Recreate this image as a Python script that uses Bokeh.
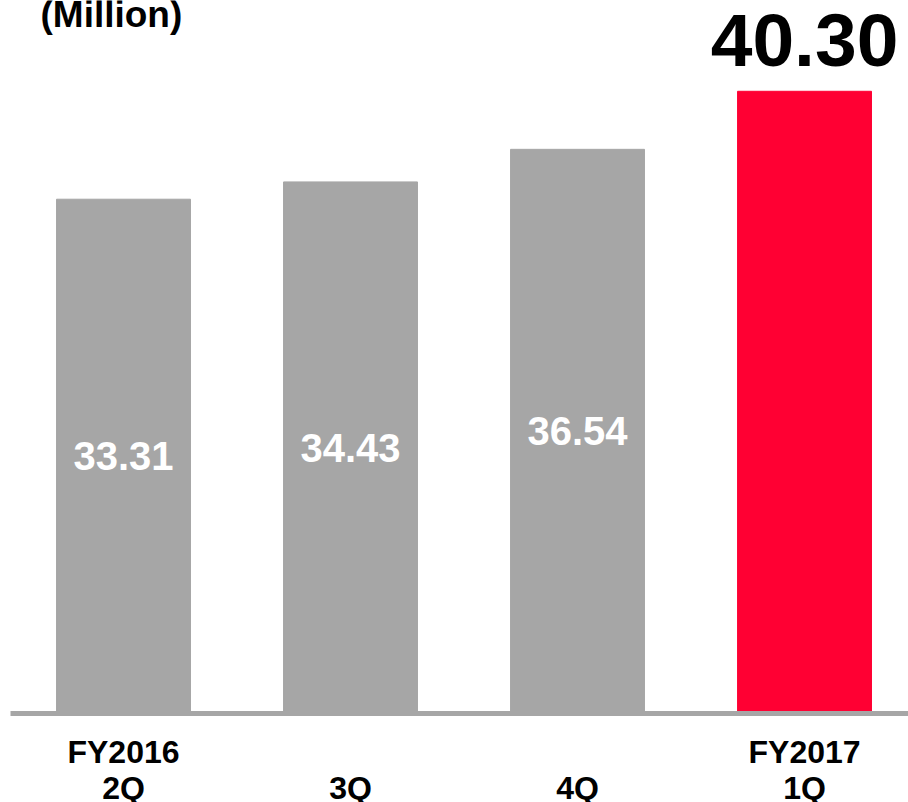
from bokeh.plotting import figure
from bokeh.models import Range1d, FixedTicker, Label, ColumnDataSource
from bokeh.core.properties import value
from bokeh.embed import file_html
from bokeh.resources import INLINE

# Quarterly figures (millions)
quarters = ["FY2016\n2Q", "\n3Q", "\n4Q", "FY2017\n1Q"]
amounts = [33.31, 34.43, 36.54, 40.30]
bar_colors = ["#A6A6A6", "#A6A6A6", "#A6A6A6", "#FF0033"]

FONT = "Liberation Sans"

idx = list(range(len(amounts)))
src = ColumnDataSource(dict(
    x=idx,
    top=amounts,
    color=bar_colors,
))

p = figure(
    frame_width=898, frame_height=713,
    x_range=Range1d(-0.4978, 3.458), y_range=Range1d(0, 46.18),
    y_axis_location=None,
    output_backend="svg", toolbar_location=None,
    min_border_left=10, min_border_right=0, min_border_top=0, min_border_bottom=0,
)
p.outline_line_color = None
p.grid.visible = False
p.background_fill_color = "white"
p.border_fill_color = "white"

p.vbar(x="x", top="top", bottom=0, width=0.59, color="color", source=src)

# value labels inside the grey bars
grey = ColumnDataSource(dict(
    x=idx[:-1], y=[a / 2 for a in amounts[:-1]], txt=[f"{a:.2f}" for a in amounts[:-1]],
))
p.text(x="x", y="y", text="txt", source=grey,
       text_color="white", text_font=value(FONT), text_font_style="bold",
       text_font_size="40px", text_align="center", text_baseline="middle")

# latest quarter highlighted above its bar
last = ColumnDataSource(dict(x=idx[-1:], y=amounts[-1:], txt=[f"{amounts[-1]:.2f}"]))
p.text(x="x", y="y", text="txt", source=last, y_offset=-51,
       text_color="black", text_font=value(FONT), text_font_style="bold",
       text_font_size="75px", text_align="center", text_baseline="alphabetic")

p.xaxis.ticker = FixedTicker(ticks=idx)
p.xaxis.major_label_overrides = {i: q for i, q in zip(idx, quarters)}
p.xaxis.major_tick_line_color = None
p.xaxis.minor_tick_line_color = None
p.xaxis.axis_line_color = "#A6A6A6"
p.xaxis.axis_line_width = 5
p.xaxis.major_label_standoff = 14
p.xaxis.major_label_text_font = FONT
p.xaxis.major_label_text_font_style = "bold"
p.xaxis.major_label_text_font_size = "32px"
p.xaxis.major_label_text_line_height = 1.0
p.xaxis.major_label_text_color = "black"

unit = Label(x=30, y=713 - 14, x_units="screen", y_units="screen", text="(Million)",
             text_font=FONT, text_font_style="bold", text_font_size="37px",
             text_color="black", text_baseline="alphabetic")
p.add_layout(unit)

open("out.html", "w").write(file_html(p, INLINE))
